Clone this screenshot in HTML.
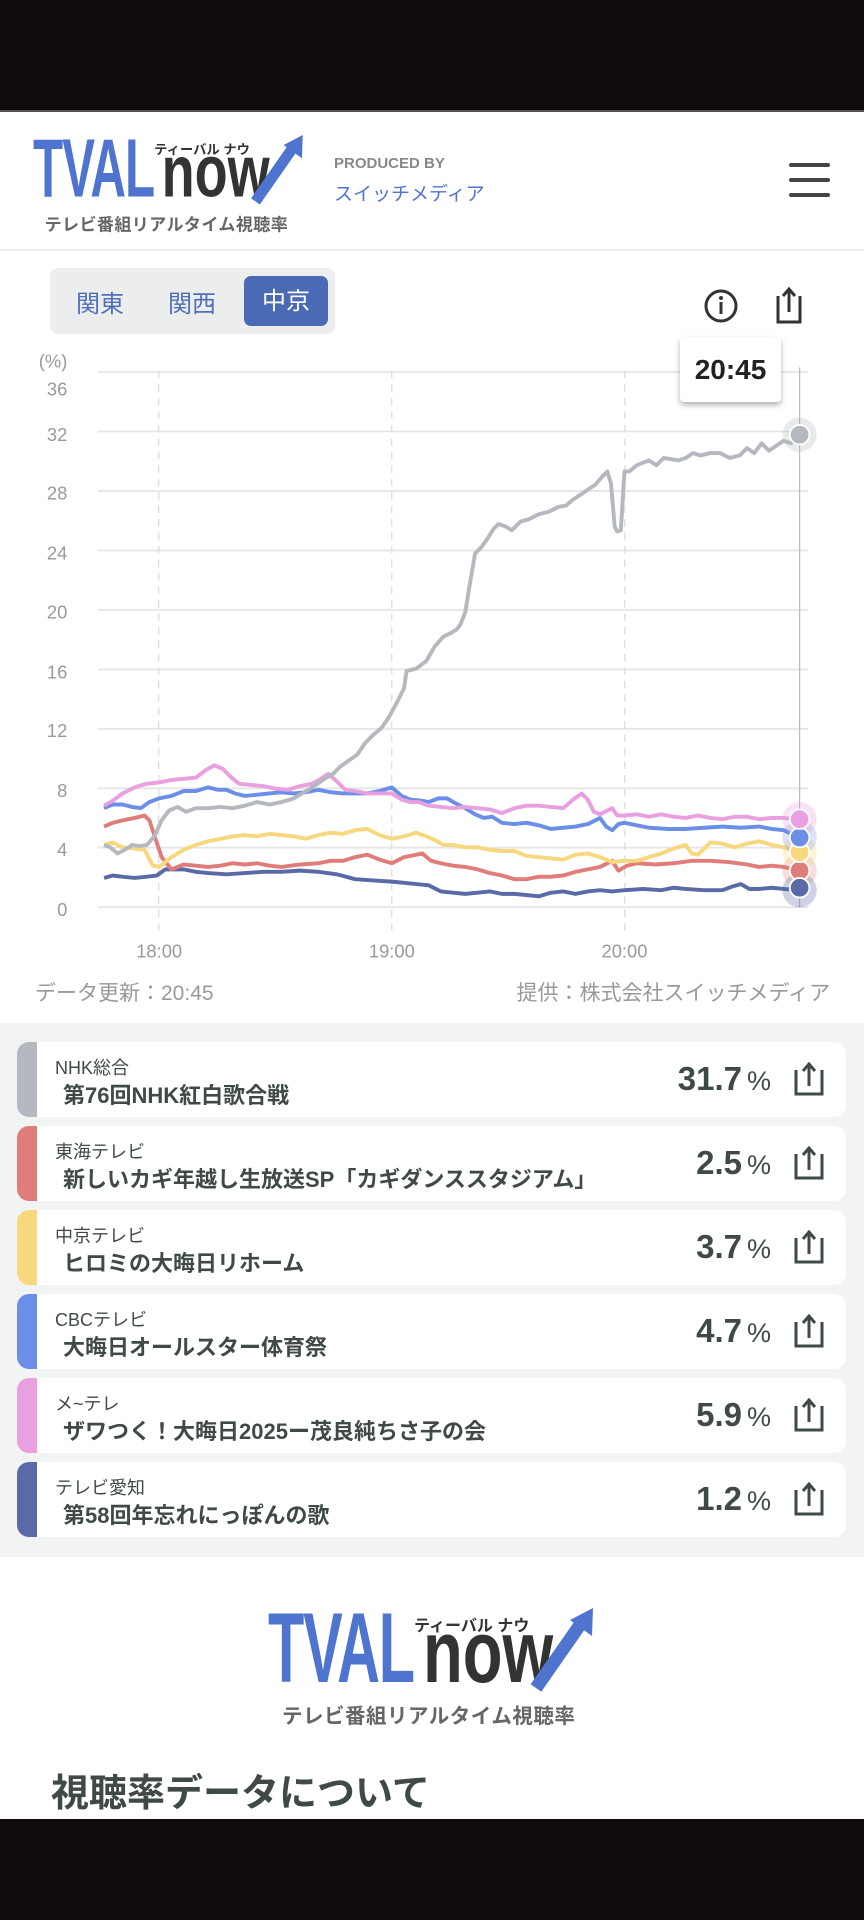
<!DOCTYPE html>
<html><head><meta charset="utf-8">
<style>
*{margin:0;padding:0;box-sizing:border-box}
body{width:864px;height:1920px;position:relative;background:#fff;font-family:"Liberation Sans","Noto Sans CJK JP",sans-serif;overflow:hidden;color:#3f4a48}
.abs{position:absolute}
.logo{position:absolute;width:330px;height:120px;transform-origin:0 0}
.logo .t1{position:absolute;left:0;top:-10px;font-size:99px;font-weight:bold;color:#4f74cf;transform:scaleX(0.6);transform-origin:0 0;line-height:1;letter-spacing:-2px}
.logo .t2{position:absolute;left:155px;top:0px;font-size:88px;font-weight:bold;color:#333;transform:scaleX(0.74);transform-origin:0 0;line-height:1}
.logo .k{position:absolute;left:146px;top:4px;font-size:16px;color:#333;font-weight:bold;white-space:nowrap}
.logo .s{position:absolute;left:14px;top:91px;font-size:20.5px;color:#666;font-weight:bold;white-space:nowrap;letter-spacing:0.5px}
.card{position:absolute;left:17px;width:829px;height:75px;background:#fff;border-radius:12px;overflow:hidden}
.card .bar{position:absolute;left:0;top:0;width:20px;height:100%}
.card .ch{position:absolute;left:38px;top:12px;font-size:18px;color:#3f4a48}
.card .ti{position:absolute;left:46px;top:36px;font-size:22px;font-weight:bold;color:#3f4a48;white-space:nowrap}
.card .pc{position:absolute;right:75px;top:18px;font-size:33px;font-weight:bold;color:#3f4a48}
.card .pc small{font-size:27px;font-weight:normal;margin-left:5px}
.card svg{position:absolute;right:22px;top:20px}
</style></head><body>
<div class="abs" style="left:0;top:0;width:864px;height:110px;background:#100c0c"></div>
<div class="abs" style="left:0;top:110px;width:864px;height:2px;background:#555"></div>
<div class="logo" style="left:33px;top:135px;transform:scale(0.83)">
 <div class="t1">TVAL</div><div class="t2">now</div><div class="k">ティーバル ナウ</div>
 <svg class="abs" style="left:0;top:0" width="330" height="90"><path d="M268 80 L314 14" stroke="#4f74cf" stroke-width="13" fill="none"/><path d="M302 12 L325 0 L324 28 Z" fill="#4f74cf"/></svg>
 <div class="s">テレビ番組リアルタイム視聴率</div>
</div>
<div class="abs" style="left:334px;top:155px;font-size:15px;color:#888;font-weight:bold">PRODUCED BY</div>
<div class="abs" style="left:334px;top:179px;font-size:19px;color:#4f74cf">スイッチメディア</div>
<div class="abs" style="left:789px;top:163px;width:41px;height:4px;background:#444;border-radius:2px"></div>
<div class="abs" style="left:789px;top:178px;width:41px;height:4px;background:#444;border-radius:2px"></div>
<div class="abs" style="left:789px;top:193px;width:41px;height:4px;background:#444;border-radius:2px"></div>
<div class="abs" style="left:0;top:249px;width:864px;height:2px;background:#eceeee"></div>
<div class="abs" style="left:50px;top:268px;width:285px;height:66px;background:#eceeee;border-radius:8px"></div>
<div class="abs" style="left:76px;top:284px;font-size:24px;color:#4f6fb8">関東</div>
<div class="abs" style="left:168px;top:284px;font-size:24px;color:#4f6fb8">関西</div>
<div class="abs" style="left:244px;top:276px;width:84px;height:50px;background:#4a6ab5;border-radius:7px;color:#fff;font-size:24px;text-align:center;line-height:52px">中京</div>
<svg class="abs" style="left:0;top:0" width="864" height="1920">
 <circle cx="721" cy="306" r="15" fill="none" stroke="#333" stroke-width="3"/>
 <circle cx="721" cy="298" r="2" fill="#333"/><rect x="719.5" y="302" width="3" height="12" fill="#333"/>
 <path d="M778 296 V322 H800 V296" fill="none" stroke="#333" stroke-width="3"/><path d="M789 312 V290 M783 296 L789 289 L795 296" fill="none" stroke="#333" stroke-width="3"/>
</svg>
<svg class="abs" style="left:0;top:0" width="864" height="1920" viewBox="0 0 705.6 1568">
 <g stroke="#e6e6e6" stroke-width="1.5">
  <line x1="80" x2="660" y1="303.8" y2="303.8"/><line x1="80" x2="660" y1="352.4" y2="352.4"/><line x1="80" x2="660" y1="400.9" y2="400.9"/><line x1="80" x2="660" y1="449.5" y2="449.5"/><line x1="80" x2="660" y1="498.1" y2="498.1"/><line x1="80" x2="660" y1="546.7" y2="546.7"/><line x1="80" x2="660" y1="595.2" y2="595.2"/><line x1="80" x2="660" y1="643.8" y2="643.8"/><line x1="80" x2="660" y1="692.3" y2="692.3"/><line x1="80" x2="660" y1="740.9" y2="740.9"/>
 </g>
 <g stroke="#e0e0e0" stroke-width="1.2" stroke-dasharray="6,5">
  <line x1="129.6" x2="129.6" y1="303" y2="762"/><line x1="319.9" x2="319.9" y1="303" y2="762"/><line x1="510.2" x2="510.2" y1="303" y2="762"/>
 </g>
 <line x1="653" x2="653" y1="300" y2="741" stroke="#bbb" stroke-width="1"/>
 <g font-size="15" fill="#999" text-anchor="end" font-family="Liberation Sans,sans-serif">
  <text x="55" y="300">(%)</text>
  <text x="55" y="323">36</text><text x="55" y="360">32</text><text x="55" y="408">28</text><text x="55" y="457">24</text><text x="55" y="505">20</text><text x="55" y="554">16</text><text x="55" y="602">12</text><text x="55" y="651">8</text><text x="55" y="699">4</text><text x="55" y="748">0</text>
 </g>
 <g font-size="15" fill="#999" text-anchor="middle" font-family="Liberation Sans,sans-serif">
  <text x="130" y="782">18:00</text><text x="320" y="782">19:00</text><text x="510" y="782">20:00</text>
 </g>
 <g fill="none" stroke-width="3.2" stroke-linejoin="round">
  <polyline stroke="#5a6aa8" points="85,717 92,715 100,716 110,717 120,716 128,715 135,710 150,710 160,712 170,713 185,714 200,713 215,712 230,712 245,711 260,712 275,714 290,718 305,719 320,720 330,721 340,722 350,723 360,728 370,729 380,730 390,729 400,728 410,730 420,730 430,731 440,732 450,729 460,728 470,730 480,728 490,727 500,728 510,727 525,726 540,727 550,725 560,726 575,727 590,727 598,724 605,722 612,726 620,726 630,725 640,726 653,727"/>
  <polyline stroke="#e07c7a" points="85,675 92,672 100,670 110,668 118,666 122,670 127,685 132,700 140,710 150,706 160,707 170,708 180,707 190,705 200,706 210,705 220,707 230,708 245,706 260,705 270,703 280,703 290,700 300,698 310,702 320,705 330,700 345,697 352,703 360,705 370,707 380,708 390,710 400,713 410,715 420,718 430,718 440,716 450,716 460,715 470,712 480,710 490,708 500,703 505,711 512,707 520,705 535,706 550,705 565,703 580,703 595,704 610,706 620,708 630,707 640,708 653,711"/>
  <polyline stroke="#f7d87e" points="85,690 92,688 100,692 110,693 118,694 125,707 130,708 140,700 150,694 160,690 170,687 180,685 190,683 200,682 210,683 220,681 230,682 240,683 250,685 260,682 270,680 280,681 290,678 300,677 310,682 320,685 330,683 340,680 348,683 355,686 362,690 370,690 380,692 390,692 400,694 410,695 420,695 430,699 440,700 450,701 460,702 470,698 480,697 490,700 500,704 510,703 520,703 530,700 540,697 550,693 560,690 565,697 570,698 580,688 590,689 600,692 610,689 620,687 630,690 640,692 653,696"/>
  <polyline stroke="#6b8ee8" points="85,660 92,657 100,657 108,659 115,660 122,655 130,652 140,650 150,646 160,646 170,643 178,645 185,645 192,648 200,650 210,649 220,648 230,647 240,648 250,647 260,645 270,647 280,648 290,648 300,648 310,646 320,643 328,650 335,653 345,654 350,655 358,652 365,652 372,656 380,660 388,665 395,668 402,667 410,672 420,673 430,672 440,674 450,677 460,676 470,675 480,673 490,668 495,675 500,678 505,673 510,672 520,674 530,676 545,677 560,677 575,676 590,675 605,676 620,675 630,677 640,678 653,684"/>
  <polyline stroke="#e8a0e0" points="85,658 92,654 100,648 110,643 120,640 130,639 140,637 150,636 160,635 168,629 175,625 182,628 188,634 195,640 205,641 215,642 225,644 235,645 245,642 255,640 262,636 268,632 275,638 282,645 290,646 300,648 310,648 320,648 328,653 335,655 342,655 350,658 360,659 370,660 380,659 390,660 400,661 410,664 420,660 430,658 440,658 450,659 460,660 468,653 475,648 480,653 485,663 490,665 500,660 504,666 510,666 520,665 530,667 540,665 550,667 560,668 570,666 580,668 590,669 600,667 610,667 620,669 630,668 640,668 653,669"/>
  <polyline stroke="#b5b8bf" points="85,690 90,692 96,697 102,694 108,690 114,691 120,690 126,683 132,670 138,662 145,659 152,663 160,660 170,660 180,659 190,660 200,658 210,655 220,657 230,655 240,652 250,646 258,641 265,636 272,632 278,626 285,621 292,616 298,607 305,600 312,594 318,585 324,574 330,562 332,548 340,546 348,540 355,528 362,520 368,517 373,514 376,510 380,500 384,475 388,452 393,447 398,440 403,432 407,428 413,430 418,433 425,426 432,424 440,420 448,418 456,414 462,413 468,408 474,404 480,400 486,396 492,389 496,385 499,395 502,430 504,434 507,433 510,385 514,385 520,380 525,378 530,376 536,380 542,374 548,375 554,376 560,374 566,370 572,372 580,370 588,370 596,374 604,372 610,366 616,370 622,362 628,368 634,364 640,360 646,362 653,355"/>
 </g>
 <g>
  <circle cx="653" cy="355" r="14" fill="#b5b8bf" opacity="0.3"/><circle cx="653" cy="355" r="8" fill="#b5b8bf" stroke="#fff" stroke-width="1.5"/>
  <circle cx="653" cy="727" r="14" fill="#5a6aa8" opacity="0.3"/>
  <circle cx="653" cy="711" r="14" fill="#e07c7a" opacity="0.25"/>
  <circle cx="653" cy="696" r="14" fill="#f7d87e" opacity="0.3"/>
  <circle cx="653" cy="684" r="14" fill="#6b8ee8" opacity="0.25"/>
  <circle cx="653" cy="669" r="14" fill="#e8a0e0" opacity="0.3"/>
  <circle cx="653" cy="711" r="8" fill="#e07c7a" stroke="#fff" stroke-width="1.5"/>
  <circle cx="653" cy="696" r="8" fill="#f7d87e" stroke="#fff" stroke-width="1.5"/>
  <circle cx="653" cy="684" r="8" fill="#6b8ee8" stroke="#fff" stroke-width="1.5"/>
  <circle cx="653" cy="669" r="8" fill="#e8a0e0" stroke="#fff" stroke-width="1.5"/>
  <circle cx="653" cy="725" r="8" fill="#5a6aa8" stroke="#fff" stroke-width="1.5"/>
 </g>
</svg>
<div class="abs" style="left:680px;top:337px;width:101px;height:65px;background:#fff;border-radius:4px;box-shadow:0 3px 6px rgba(0,0,0,0.3);font-size:28px;font-weight:bold;color:#222;text-align:center;line-height:65px">20:45</div>
<div class="abs" style="left:35px;top:977px;font-size:21px;color:#999">データ更新：20:45</div>
<div class="abs" style="right:34px;top:977px;font-size:21px;color:#999">提供：株式会社スイッチメディア</div>
<div class="abs" style="left:0;top:1023px;width:864px;height:534px;background:#f2f4f4"></div>

<div class="card" style="top:1042px"><div class="bar" style="background:#b5b8bf"></div><div class="ch">NHK総合</div><div class="ti">第76回NHK紅白歌合戦</div><div class="pc">31.7<small>%</small></div><svg width="30" height="34"><path d="M2 8 V32 H28 V8" fill="none" stroke="#3f4a48" stroke-width="3"/><path d="M15 24 V3 M9 9 L15 2 L21 9" fill="none" stroke="#3f4a48" stroke-width="3"/></svg></div>
<div class="card" style="top:1126px"><div class="bar" style="background:#e07c7a"></div><div class="ch">東海テレビ</div><div class="ti">新しいカギ年越し生放送SP「カギダンススタジアム」</div><div class="pc">2.5<small>%</small></div><svg width="30" height="34"><path d="M2 8 V32 H28 V8" fill="none" stroke="#3f4a48" stroke-width="3"/><path d="M15 24 V3 M9 9 L15 2 L21 9" fill="none" stroke="#3f4a48" stroke-width="3"/></svg></div>
<div class="card" style="top:1210px"><div class="bar" style="background:#f7d87e"></div><div class="ch">中京テレビ</div><div class="ti">ヒロミの大晦日リホーム</div><div class="pc">3.7<small>%</small></div><svg width="30" height="34"><path d="M2 8 V32 H28 V8" fill="none" stroke="#3f4a48" stroke-width="3"/><path d="M15 24 V3 M9 9 L15 2 L21 9" fill="none" stroke="#3f4a48" stroke-width="3"/></svg></div>
<div class="card" style="top:1294px"><div class="bar" style="background:#6b8ee8"></div><div class="ch">CBCテレビ</div><div class="ti">大晦日オールスター体育祭</div><div class="pc">4.7<small>%</small></div><svg width="30" height="34"><path d="M2 8 V32 H28 V8" fill="none" stroke="#3f4a48" stroke-width="3"/><path d="M15 24 V3 M9 9 L15 2 L21 9" fill="none" stroke="#3f4a48" stroke-width="3"/></svg></div>
<div class="card" style="top:1378px"><div class="bar" style="background:#e8a0e0"></div><div class="ch">メ~テレ</div><div class="ti">ザワつく！大晦日2025ー茂良純ちさ子の会</div><div class="pc">5.9<small>%</small></div><svg width="30" height="34"><path d="M2 8 V32 H28 V8" fill="none" stroke="#3f4a48" stroke-width="3"/><path d="M15 24 V3 M9 9 L15 2 L21 9" fill="none" stroke="#3f4a48" stroke-width="3"/></svg></div>
<div class="card" style="top:1462px"><div class="bar" style="background:#5a6aa8"></div><div class="ch">テレビ愛知</div><div class="ti">第58回年忘れにっぽんの歌</div><div class="pc">1.2<small>%</small></div><svg width="30" height="34"><path d="M2 8 V32 H28 V8" fill="none" stroke="#3f4a48" stroke-width="3"/><path d="M15 24 V3 M9 9 L15 2 L21 9" fill="none" stroke="#3f4a48" stroke-width="3"/></svg></div>

<div class="logo" style="left:268px;top:1608px">
 <div class="t1">TVAL</div><div class="t2">now</div><div class="k">ティーバル ナウ</div>
 <svg class="abs" style="left:0;top:0" width="330" height="90"><path d="M268 80 L314 14" stroke="#4f74cf" stroke-width="13" fill="none"/><path d="M302 12 L325 0 L324 28 Z" fill="#4f74cf"/></svg>
 <div class="s">テレビ番組リアルタイム視聴率</div>
</div>
<div class="abs" style="left:51px;top:1762px;font-size:38px;font-weight:bold;color:#3f4a48">視聴率データについて</div>
<div class="abs" style="left:0;top:1819px;width:864px;height:101px;background:#100c0c"></div>
</body></html>
